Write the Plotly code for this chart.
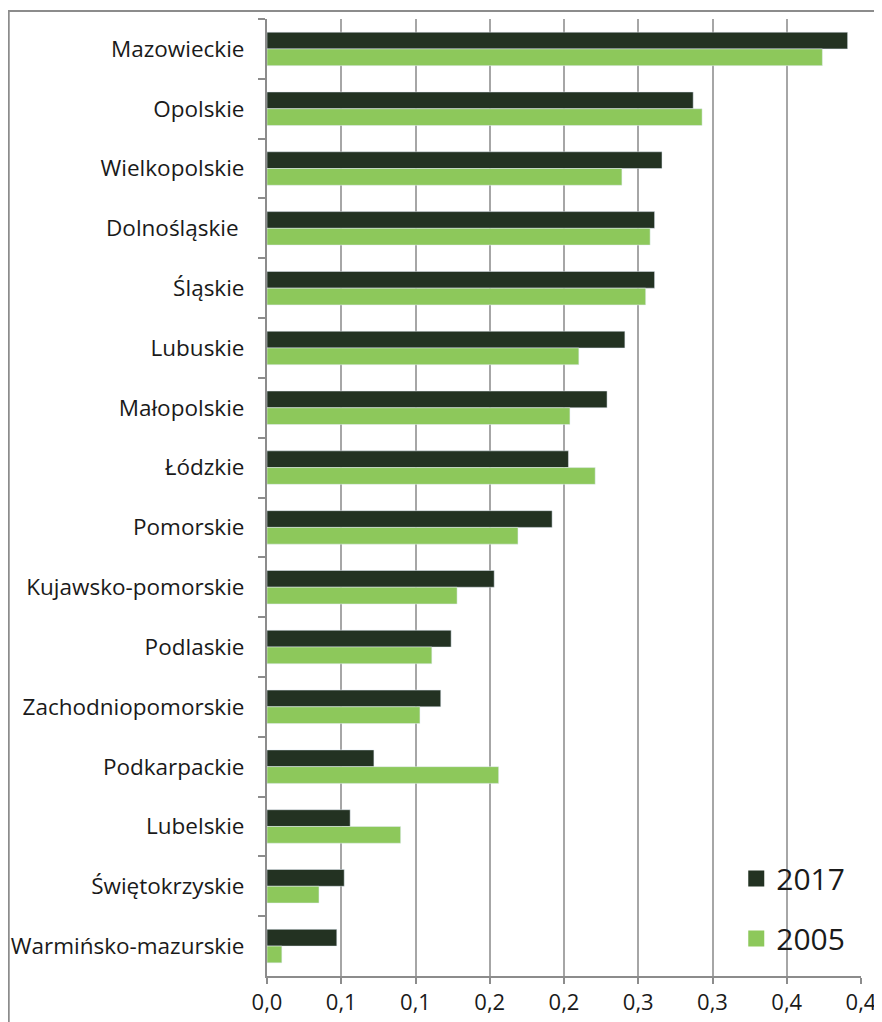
import plotly.graph_objects as go

# ===== data =====
regions = [
    "Mazowieckie", "Opolskie", "Wielkopolskie", "Dolnośląskie\u00a0", "Śląskie",
    "Lubuskie", "Małopolskie", "Łódzkie", "Pomorskie", "Kujawsko-pomorskie",
    "Podlaskie", "Zachodniopomorskie", "Podkarpackie", "Lubelskie",
    "Świętokrzyskie", "Warmińsko-mazurskie",
]
values_2017 = [0.391, 0.287, 0.266, 0.261, 0.261, 0.241, 0.229, 0.203,
               0.192, 0.153, 0.124, 0.117, 0.072, 0.056, 0.052, 0.047]
values_2005 = [0.374, 0.293, 0.239, 0.258, 0.255, 0.210, 0.204, 0.221,
               0.169, 0.128, 0.111, 0.103, 0.156, 0.090, 0.035, 0.010]
x_tickvals = [0, 0.05, 0.1, 0.15, 0.2, 0.25, 0.3, 0.35, 0.4]
x_ticktext = ["0,0", "0,1", "0,1", "0,2", "0,2", "0,3", "0,3", "0,4", "0,4"]

# ===== colours =====
DARK = "#233222"
GREEN = "#8DC85B"
GRID = "#A6A6A6"
AXIS = "#8C8C8C"
TEXT = "#1A1A1A"
FONT = "Open Sans"

fig = go.Figure()
fig.add_trace(go.Bar(y=regions, x=values_2017, name="2017", orientation="h",
                     marker=dict(color=DARK), showlegend=False))
fig.add_trace(go.Bar(y=regions, x=values_2005, name="2005", orientation="h",
                     marker=dict(color=GREEN), showlegend=False))

# legend entries with bigger square swatches
for name, col, grp in (("2017", DARK, "a"), ("2005", GREEN, "b")):
    fig.add_trace(go.Scatter(x=[None], y=[None], mode="markers", name=name,
                             legendgroup=grp,
                             marker=dict(symbol="square", size=16, color=col)))

# page body has an 8px margin, so the figure is 8px smaller and shifted
fig.update_layout(
    width=874, height=1014,
    margin=dict(l=259, r=21, t=11, b=46),
    paper_bgcolor="white", plot_bgcolor="white",
    font=dict(family=FONT, color=TEXT),
    barmode="group", bargap=0.44, bargroupgap=0,
    showlegend=True,
    legend=dict(x=0.79, y=0.012, xanchor="left", yanchor="bottom",
                font=dict(size=30, color=TEXT), bgcolor="rgba(0,0,0,0)",
                traceorder="grouped", tracegroupgap=18,
                itemwidth=30),
)
fig.update_xaxes(
    range=[0, 0.4], tickvals=x_tickvals, ticktext=x_ticktext,
    showgrid=True, gridcolor=GRID, gridwidth=1.5, zeroline=False,
    showline=True, linecolor=AXIS, linewidth=2,
    ticks="outside", ticklen=6, tickcolor=AXIS, tickwidth=1.5,
    tickfont=dict(size=22, color=TEXT), automargin=False,
)
fig.update_yaxes(
    autorange="reversed", showgrid=False, zeroline=False,
    showline=True, linecolor=AXIS, linewidth=2,
    ticks="outside", tickson="boundaries", ticklen=7, tickcolor=AXIS, tickwidth=1.5,
    tickfont=dict(size=22.5, color=TEXT), ticklabelstandoff=16, automargin=False,
)

# outer chart frame (runs past the right and bottom edges)
fig.add_shape(type="rect", xref="paper", yref="paper",
              x0=-0.4348, x1=1.2, y0=-0.2, y1=1.0084,
              line=dict(color=AXIS, width=2), layer="below")

fig.write_html("out.html")
